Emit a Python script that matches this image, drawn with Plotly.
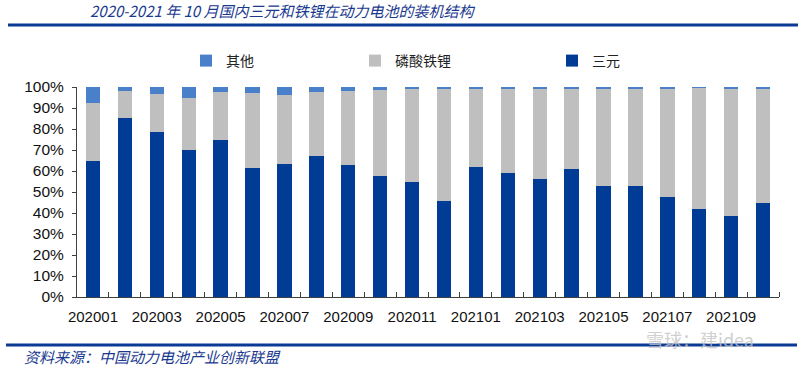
import plotly.graph_objects as go

categories = ["202001","202002","202003","202004","202005","202006","202007","202008",
              "202009","202010","202011","202012","202101","202102","202103","202104",
              "202105","202106","202107","202108","202109","202110"]
ternary = [64.8, 85.4, 78.4, 70.1, 74.8, 61.6, 63.3, 67.1, 62.9, 57.6, 54.8, 45.9,
           62.1, 59.2, 56.3, 61.0, 53.0, 52.9, 47.8, 42.1, 38.6, 44.6]
lfp_top = [92.5, 98.1, 96.7, 94.9, 97.5, 97.0, 96.0, 97.5, 98.1, 98.7, 99.2, 98.9,
           99.2, 99.2, 99.2, 99.2, 99.2, 99.2, 99.2, 99.6, 99.2, 99.2]
lfp = [round(t - s, 1) for t, s in zip(lfp_top, ternary)]
other = [round(100 - t, 1) for t in lfp_top]
tick_labels = categories[::2]

x = list(range(len(categories)))
FONT = "Liberation Sans, Arial, sans-serif"
CJK = "Noto Sans CJK SC, sans-serif"

fig = go.Figure()
fig.add_trace(go.Bar(x=x, y=ternary, name="三元", marker_color="#003B95",
                     legend="legend3", marker_line_width=0))
fig.add_trace(go.Bar(x=x, y=lfp, name="磷酸铁锂", marker_color="#BFBFBF",
                     legend="legend2", marker_line_width=0))
fig.add_trace(go.Bar(x=x, y=other, name="其他", marker_color="#4A7FC9",
                     legend="legend", marker_line_width=0))

leg_common = dict(orientation="h", yanchor="middle", xanchor="left",
                  font=dict(family=CJK, size=14, color="#222222"),
                  bgcolor="rgba(0,0,0,0)", itemwidth=30, tracegroupgap=0)

LEG_Y = 1 + (87 - 61) / 210

fig.update_layout(
    width=800, height=366,
    margin=dict(l=77, r=21, t=87, b=69, autoexpand=False),
    paper_bgcolor="white", plot_bgcolor="white",
    barmode="stack", bargap=0.55,
    showlegend=True,
    legend=dict(x=(186 - 77) / 702, y=LEG_Y, **leg_common),
    legend2=dict(x=(355 - 77) / 702, y=LEG_Y, **leg_common),
    legend3=dict(x=(552 - 77) / 702, y=LEG_Y, **leg_common),
    xaxis=dict(range=[-0.5, len(categories) - 0.5],
               tickmode="array", tickvals=x[::2], ticktext=tick_labels,
               ticks="", showline=True, linecolor="#404040", linewidth=1,
               tickfont=dict(family=FONT, size=15, color="#111111"),
               ticklabelstandoff=6, showgrid=False, zeroline=False,
               minor=dict(tickmode="array", tickvals=[i + 0.5 for i in x],
                          ticks="inside", ticklen=5, tickcolor="#404040", showgrid=False)),
    yaxis=dict(range=[0, 100], tickmode="linear", tick0=0, dtick=10,
               ticksuffix="%", ticks="outside", ticklen=4, tickcolor="#404040",
               showline=True, linecolor="#404040", linewidth=1,
               tickfont=dict(family=FONT, size=15.5, color="#111111"),
               ticklabelstandoff=5,
               showgrid=False, zeroline=False),
    font=dict(family=FONT),
)

# title
fig.add_annotation(text="<i>2020-2021 年 10 月国内三元和铁锂在动力电池的装机结构</i>",
                   xref="paper", yref="paper", x=(88 - 77) / 702, y=1 + (87 - 11) / 210,
                   xanchor="left", yanchor="middle", showarrow=False,
                   font=dict(family=CJK, size=15, color="#1A3A8F"))
# source
fig.add_annotation(text="<i>资料来源：中国动力电池产业创新联盟</i>",
                   xref="paper", yref="paper", x=(22 - 77) / 702, y=-(356 - 297) / 210,
                   xanchor="left", yanchor="middle", showarrow=False,
                   font=dict(family=CJK, size=15, color="#1A3A8F"))
# watermark
fig.add_annotation(text="雪球：建idea",
                   xref="paper", yref="paper", x=(645 - 77) / 702, y=-(339 - 297) / 210,
                   xanchor="left", yanchor="middle", showarrow=False, borderpad=0,
                   font=dict(family=CJK, size=18, color="rgba(195,195,195,0.8)"))

# rule lines
fig.add_shape(type="line", xref="paper", yref="paper",
              x0=(8 - 77) / 702, x1=(798 - 77) / 702,
              y0=1 + (87 - 25) / 210, y1=1 + (87 - 25) / 210,
              line=dict(color="#0B3A94", width=3))
fig.add_shape(type="line", xref="paper", yref="paper",
              x0=(6 - 77) / 702, x1=(797 - 77) / 702,
              y0=-(345 - 297) / 210, y1=-(345 - 297) / 210,
              line=dict(color="#0B3A94", width=3))

fig.write_html("out.html", config={"displayModeBar": False},
               post_script="document.body.style.margin='0';document.body.style.overflow='hidden';")
